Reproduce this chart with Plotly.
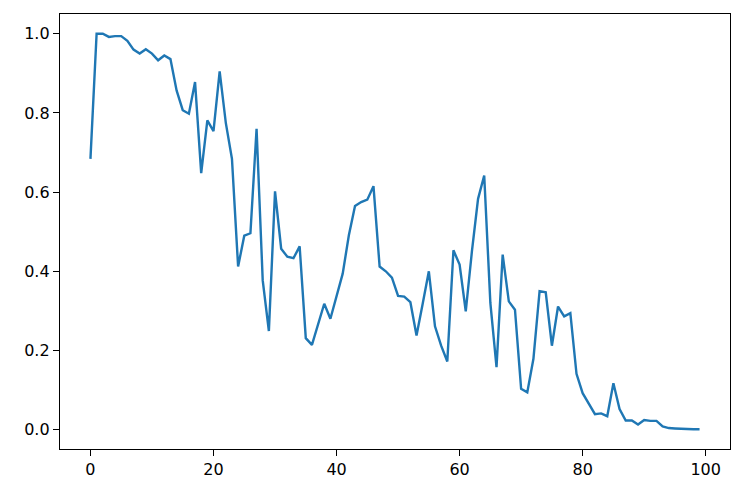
import plotly.graph_objects as go

x_values = list(range(100))
y_values = [
    0.684, 1.000, 1.000, 0.992, 0.994, 0.994, 0.982, 0.960, 0.950, 0.961,
    0.950, 0.933, 0.945, 0.936, 0.857, 0.807, 0.798, 0.878, 0.648, 0.781,
    0.754, 0.905, 0.775, 0.684, 0.412, 0.490, 0.496, 0.760, 0.377, 0.249,
    0.602, 0.457, 0.437, 0.433, 0.463, 0.231, 0.214, 0.265, 0.318, 0.280,
    0.339, 0.394, 0.491, 0.565, 0.575, 0.581, 0.615, 0.412, 0.400, 0.384,
    0.338, 0.336, 0.322, 0.238, 0.318, 0.400, 0.261, 0.212, 0.172, 0.453,
    0.417, 0.299, 0.450, 0.583, 0.642, 0.320, 0.158, 0.442, 0.324, 0.303,
    0.103, 0.094, 0.179, 0.350, 0.347, 0.212, 0.311, 0.286, 0.294, 0.141,
    0.092, 0.065, 0.039, 0.041, 0.034, 0.117, 0.052, 0.023, 0.023, 0.013,
    0.024, 0.022, 0.022, 0.008, 0.004, 0.003, 0.002, 0.001, 0.001, 0.001,
]
x_ticks = [0, 20, 40, 60, 80, 100]
y_ticks = [0.0, 0.2, 0.4, 0.6, 0.8, 1.0]
y_tick_labels = ["0.0", "0.2", "0.4", "0.6", "0.8", "1.0"]

fig = go.Figure()
fig.add_trace(go.Scatter(
    x=x_values, y=y_values, mode="lines",
    line=dict(color="#1f77b4", width=2.4),
    showlegend=False,
))

xpad = (max(x_values) - min(x_values)) * 0.05
ymin, ymax = min(y_values), max(y_values)
ypad = (ymax - ymin) * 0.05

axis_common = dict(
    showgrid=False, zeroline=False, showline=True, mirror=True,
    linecolor="black", linewidth=1.3, ticks="outside", ticklen=6,
    tickwidth=1.3, tickcolor="black",
    tickfont=dict(family="DejaVu Sans", size=16, color="black"),
)

fig.update_layout(
    width=744, height=496,
    margin=dict(l=60, r=14, t=14, b=47),
    paper_bgcolor="white", plot_bgcolor="white",
    xaxis=dict(range=[min(x_values) - xpad, max(x_values) + xpad],
               tickvals=x_ticks, ticktext=[str(t) for t in x_ticks], **axis_common),
    yaxis=dict(range=[ymin - ypad, ymax + ypad],
               tickvals=y_ticks, ticktext=y_tick_labels, **axis_common),
)

fig.write_html("out.html", config={"displayModeBar": False},
               post_script="document.body.style.margin='0';")
